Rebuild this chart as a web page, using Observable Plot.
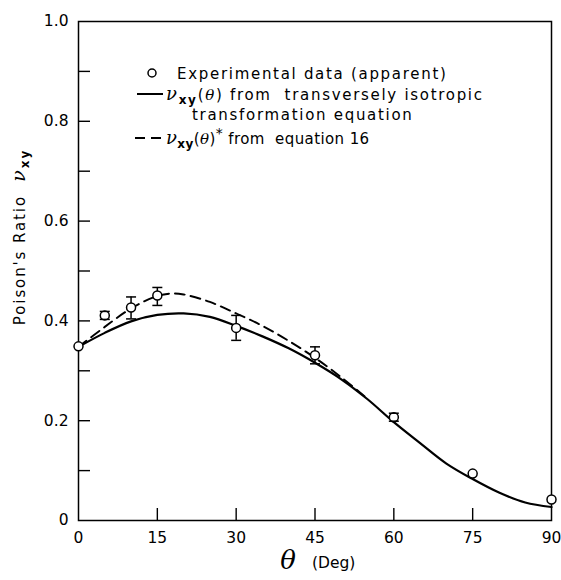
<!DOCTYPE html>
<html>
<head>
<meta charset="utf-8">
<script src="https://cdn.jsdelivr.net/npm/d3@7"></script>
<script src="https://cdn.jsdelivr.net/npm/@observablehq/plot@0.6"></script>
<style>
  html, body { margin: 0; padding: 0; background: #fff; }
  #chart svg { display: block; }
</style>
</head>
<body>
<div id="chart"></div>
<script>
// Poisson's ratio ν_xy versus fibre angle θ

// Experimental (apparent) values with error-bar limits (null where no bar)
const expTheta = [0, 5, 10, 15, 30, 45, 60, 75, 90];
const expNu    = [0.349, 0.411, 0.427, 0.451, 0.386, 0.331, 0.207, 0.094, 0.042];
const errLow   = [null, 0.403, 0.404, 0.431, 0.361, 0.314, 0.199, null, null];
const errHigh  = [null, 0.419, 0.448, 0.467, 0.411, 0.348, 0.215, null, null];

// ν_xy(θ) from the transversely isotropic transformation equation
const transTheta = [0, 5, 10, 15, 20, 25, 30, 35, 40, 45, 50, 55, 60, 65, 70, 75, 80, 85, 90];
const transNu    = [0.348, 0.376, 0.399, 0.412, 0.415, 0.408, 0.390, 0.369, 0.345, 0.316, 0.283, 0.243, 0.197, 0.155, 0.114, 0.083, 0.056, 0.036, 0.027];

// ν_xy(θ)* from equation 16
const eq16Theta = [0, 5, 10, 15, 18, 20, 25, 30, 35, 40, 45, 50, 55];
const eq16Nu    = [0.348, 0.388, 0.425, 0.450, 0.455, 0.453, 0.438, 0.415, 0.390, 0.360, 0.326, 0.287, 0.244];

// Axis ticks
const xTicks = [0, 15, 30, 45, 60, 75, 90];
const xInnerTicks = [15, 30, 45, 60, 75];
const yLabelTicks = [0, 0.2, 0.4, 0.6, 0.8, 1.0];
const yTickMarks = [0.1, 0.2, 0.3, 0.4, 0.5, 0.6, 0.7, 0.8, 0.9];

const W = 561, H = 580;
const mL = 78, mR = 10, mT = 21, mB = 60;
const innerW = W - mL - mR, innerH = H - mT - mB;

const transLine = transTheta.map((t, i) => ({theta: t, nu: transNu[i]}));
const eq16Line = eq16Theta.map((t, i) => ({theta: t, nu: eq16Nu[i]}));
const points = expTheta.map((t, i) => ({theta: t, nu: expNu[i], lo: errLow[i], hi: errHigh[i]}));
const bars = points.filter(d => d.lo != null);
const caps = bars.flatMap(d => [{theta: d.theta, nu: d.lo}, {theta: d.theta, nu: d.hi}]);

// short horizontal stroke used for error-bar caps
const capSymbol = {
  draw(ctx, size) {
    const r = Math.sqrt(size / Math.PI);
    ctx.moveTo(-r, 0);
    ctx.lineTo(r, 0);
  }
};

const fmtY = d => d === 0 ? "0" : d.toFixed(1);

const svg = Plot.plot({
  width: W, height: H,
  marginLeft: mL, marginRight: mR, marginTop: mT, marginBottom: mB,
  x: {domain: [0, 90]},
  y: {domain: [0, 1]},
  style: {fontFamily: "DejaVu Sans", fontSize: "15px", color: "black", background: "white"},
  marks: [
    Plot.frame({stroke: "black", strokeWidth: 1.5}),
    Plot.tickY(yTickMarks, {y: d => d, insetRight: innerW - 12, stroke: "black", strokeWidth: 1.4}),
    Plot.tickX(xInnerTicks, {x: d => d, insetTop: innerH - 12, stroke: "black", strokeWidth: 1.4}),
    Plot.axisY(yLabelTicks, {tickSize: 0, tickPadding: 10, tickFormat: fmtY, label: null, fontSize: 15.5}),
    Plot.axisX(xTicks, {tickSize: 0, tickPadding: 11, label: null, fontSize: 15.5}),
    Plot.line(transLine, {x: "theta", y: "nu", curve: "catmull-rom", stroke: "black", strokeWidth: 2.2}),
    Plot.line(eq16Line, {x: "theta", y: "nu", curve: "catmull-rom", stroke: "black", strokeWidth: 1.9, strokeDasharray: "10,6"}),
    Plot.ruleX(bars, {x: "theta", y1: "lo", y2: "hi", stroke: "black", strokeWidth: 1.5}),
    Plot.dot(points, {x: "theta", y: "nu", r: 4.5, fill: "white", stroke: "black", strokeWidth: 1.5}),
    Plot.dot(caps, {x: "theta", y: "nu", r: 5, symbol: capSymbol, fill: "none", stroke: "black", strokeWidth: 1.5}),
    Plot.text(["θ"], {frameAnchor: "bottom", dx: -27, dy: 48, fontSize: 26, fontStyle: "italic", fontFamily: "DejaVu Serif", textAnchor: "middle"}),
    Plot.text(["(Deg)"], {frameAnchor: "bottom", dx: -3, dy: 47, fontSize: 15.5, textAnchor: "start", letterSpacing: "2px"})
  ]
});

document.getElementById("chart").appendChild(svg);

// Rich text (subscripts, italics) for the axis title and the key
const root = d3.select(svg);
const nuFont = "DejaVu Serif";

function nuLabel(sel, star) {
  sel.append("tspan").attr("font-family", nuFont).attr("font-style", "italic").attr("font-size", 18).text("ν");
  sel.append("tspan").attr("font-size", 12).attr("font-weight", "bold").attr("dy", 4).text("xy");
  sel.append("tspan").attr("dy", -4).text("(");
  sel.append("tspan").attr("font-family", nuFont).attr("font-style", "italic").text("θ");
  sel.append("tspan").text(")");
  if (star) sel.append("tspan").attr("font-size", 14).attr("dy", -6).text("*");
}

// y-axis title
const yTitle = root.append("text")
  .attr("transform", "translate(25,237) rotate(-90)")
  .attr("text-anchor", "middle")
  .attr("font-family", "DejaVu Sans")
  .attr("font-size", 15)
  .attr("letter-spacing", "1.9px")
  .attr("fill", "black");
yTitle.append("tspan").text("Poison's Ratio  ");
yTitle.append("tspan").attr("font-family", nuFont).attr("font-style", "italic").attr("font-size", 19).text("ν");
yTitle.append("tspan").attr("font-size", 12).attr("font-weight", "bold").attr("dy", 4).text("xy");

// key
const key = root.append("g")
  .attr("font-family", "DejaVu Sans")
  .attr("font-size", 15)
  .attr("text-anchor", "start")
  .attr("letter-spacing", "1.7px")
  .attr("fill", "black");

key.append("circle").attr("cx", 152).attr("cy", 73).attr("r", 4)
  .attr("fill", "white").attr("stroke", "black").attr("stroke-width", 1.5);
key.append("text").attr("x", 177).attr("y", 79).text("Experimental data (apparent)");

key.append("line").attr("x1", 137).attr("x2", 163).attr("y1", 94).attr("y2", 94)
  .attr("stroke", "black").attr("stroke-width", 2);
const l2 = key.append("text").attr("x", 166).attr("y", 100);
nuLabel(l2, false);
l2.append("tspan").text(" from  transversely isotropic");

key.append("text").attr("x", 192).attr("y", 120).text("transformation equation");

key.append("line").attr("x1", 135).attr("x2", 163).attr("y1", 138).attr("y2", 138)
  .attr("stroke", "black").attr("stroke-width", 2).attr("stroke-dasharray", "10,6");
const l4 = key.append("text").attr("x", 166).attr("y", 144).attr("letter-spacing", "0.4px");
nuLabel(l4, true);
l4.append("tspan").attr("dy", 6).text(" from  equation 16");
</script>
</body>
</html>
